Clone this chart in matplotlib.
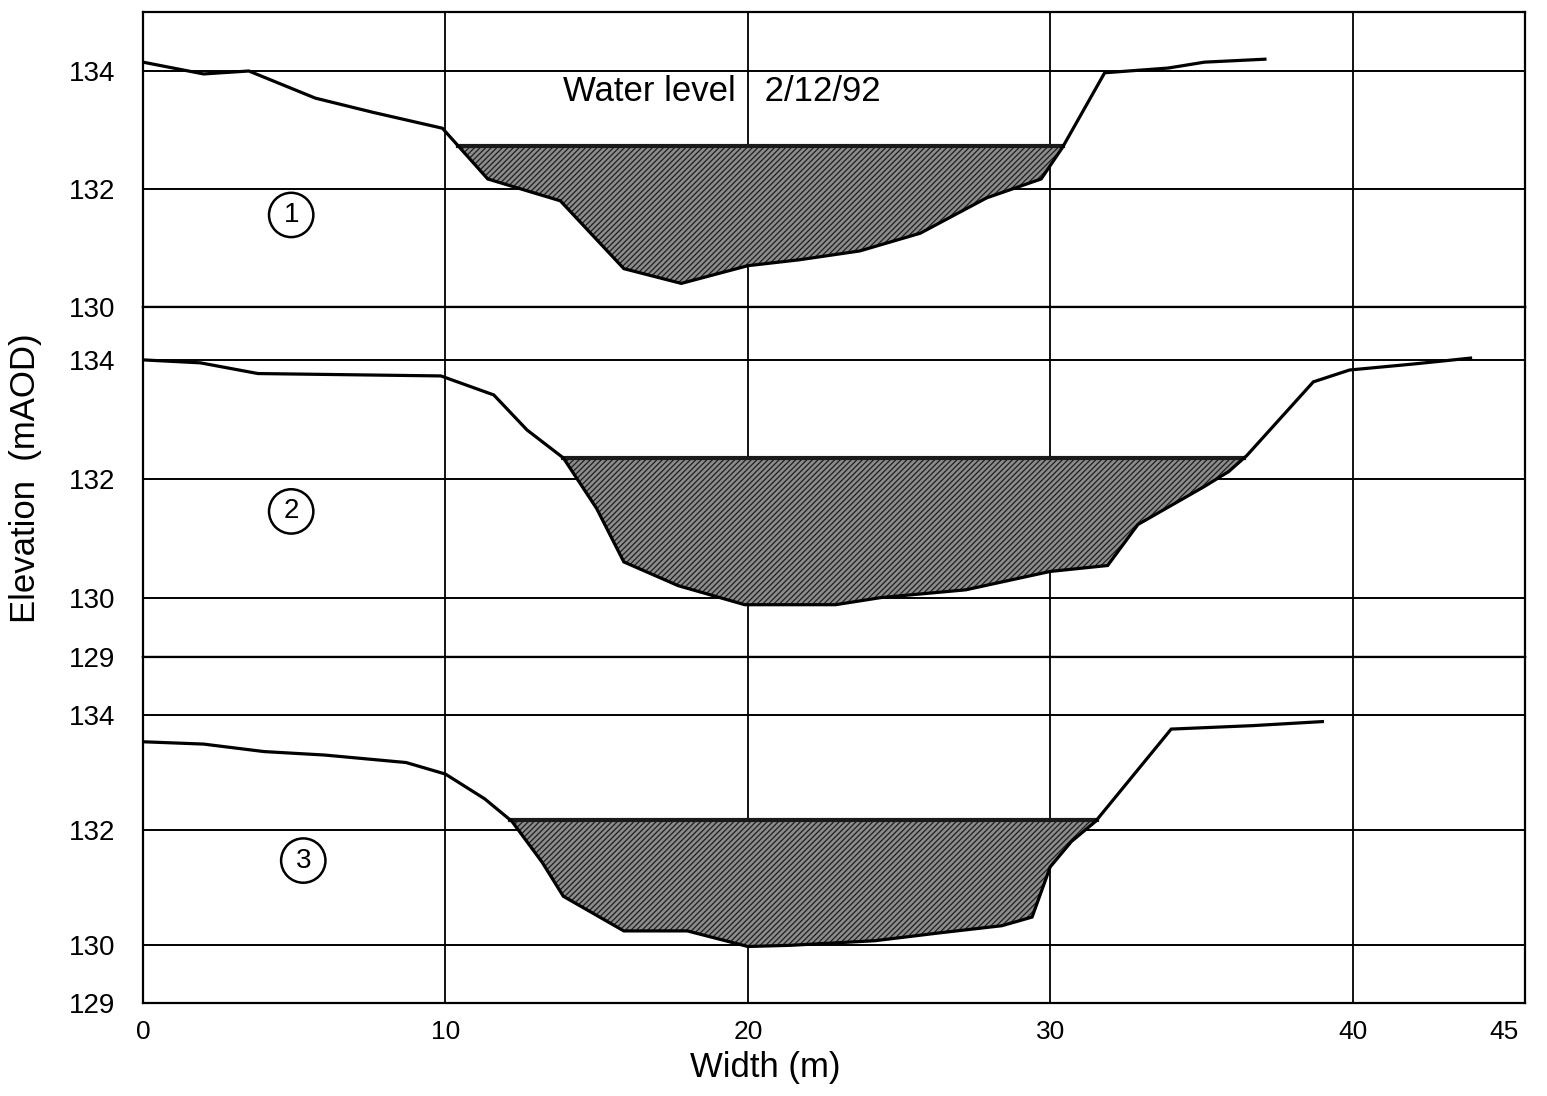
import numpy as np
import matplotlib
matplotlib.use("Agg")
import matplotlib.pyplot as plt

plt.rcParams['font.family'] = ['Liberation Sans', 'DejaVu Sans']
plt.rcParams['hatch.linewidth'] = 0.9

# ---------------- data ----------------
x1 = [0, 2, 3.5, 5.7, 7.6, 9.9, 11.4, 13.8, 15.9, 17.8, 20, 21.7, 23.7, 25.7, 27.9, 29.7, 30.4, 31.8, 33.9, 35.1, 37.1]
y1 = [134.15, 133.95, 134.0, 133.54, 133.3, 133.03, 132.17, 131.8, 130.65, 130.4, 130.7, 130.8, 130.95, 131.25, 131.85, 132.17, 132.7, 133.97, 134.05, 134.15, 134.2]
level1 = 132.73

x2 = [0, 1.9, 3.8, 9.85, 11.6, 12.7, 13.9, 15.0, 15.9, 17.7, 19.9, 22.9, 24.4, 27.2, 30.0, 31.9, 32.9, 35.1, 35.9, 36.5, 38.7, 39.9, 42.0, 43.9]
y2 = [134.0, 133.95, 133.77, 133.73, 133.41, 132.82, 132.35, 131.5, 130.6, 130.2, 129.88, 129.88, 130.0, 130.13, 130.44, 130.54, 131.23, 131.87, 132.12, 132.39, 133.63, 133.83, 133.93, 134.03]
level2 = 132.35

x3 = [0, 2, 4, 6, 8.7, 10, 11.3, 12.2, 13.2, 13.9, 15.9, 18.0, 20.0, 21.4, 24.2, 26.4, 28.4, 29.4, 30.0, 30.7, 31.5, 34.0, 36.7, 39.0]
y3 = [133.53, 133.49, 133.36, 133.3, 133.17, 132.97, 132.54, 132.15, 131.44, 130.85, 130.25, 130.25, 129.98, 130.0, 130.08, 130.22, 130.34, 130.49, 131.36, 131.8, 132.15, 133.75, 133.81, 133.88]
level3 = 132.18

section_labels = ['1', '2', '3']
water_label = 'Water level   2/12/92'
x_ticks = [0, 10, 20, 30, 40, 45]
x_grid = [10, 20, 30, 40]
y_ticks = [[130, 132, 134], [129, 130, 132, 134], [129, 130, 132, 134]]
y_lims = [(130, 135), (129, 134.89), (129, 135)]
x_lim = (0, 45.7)


def crossings(x, y, level):
    x = np.asarray(x, float)
    y = np.asarray(y, float) - level
    pts = []
    for i in range(len(x) - 1):
        if (y[i] > 0) != (y[i + 1] > 0):
            t = y[i] / (y[i] - y[i + 1])
            pts.append(x[i] + t * (x[i + 1] - x[i]))
    return pts[0], pts[-1]


fig = plt.figure(figsize=(15.47, 10.96), dpi=100)
gs = fig.add_gridspec(3, 1, left=143 / 1547, right=1525 / 1547,
                      top=1 - 12 / 1096, bottom=1 - 1003 / 1096,
                      hspace=0, height_ratios=[295, 350, 346])
axes = [fig.add_subplot(gs[i]) for i in range(3)]

profiles = [(x1, y1, level1), (x2, y2, level2), (x3, y3, level3)]
label_pos = [(4.9, 131.56), (4.9, 131.45), (5.3, 131.47)]

for i, ax in enumerate(axes):
    xs, ys, lev = profiles[i]
    xa = np.asarray(xs, float)
    ya = np.asarray(ys, float)
    a, b = crossings(xs, ys, lev)
    # water body
    xf = np.linspace(a, b, 600)
    yf = np.interp(xf, xa, ya)
    yf = np.minimum(yf, lev)
    ax.fill_between(xf, yf, lev, facecolor='#8c8c8c', edgecolor='#1e1e1e',
                    hatch='//////', linewidth=0, zorder=2)
    ax.plot([a, b], [lev, lev], color='#1a1a1a', lw=3.0, zorder=3)
    ax.plot(xa, ya, color='black', lw=2.3, zorder=4, solid_joinstyle='miter')

    ax.set_xlim(*x_lim)
    ax.set_ylim(*y_lims[i])
    ax.set_yticks(y_ticks[i])
    ax.set_xticks(x_ticks)
    ax.grid(True, axis='y', color='black', lw=1.4, zorder=1)
    for gx in x_grid:
        ax.axvline(gx, color='black', lw=1.3, zorder=1)
    ax.set_axisbelow(True)
    for s in ax.spines.values():
        s.set_linewidth(1.6)
        s.set_color('black')
    ax.tick_params(axis='y', length=0, pad=20, labelsize=20)
    ax.tick_params(axis='x', length=0, pad=12, labelsize=19)
    if i < 2:
        ax.tick_params(axis='x', labelbottom=False)

    lx, ly = label_pos[i]
    ax.text(lx, ly, section_labels[i], fontsize=20, ha='center', va='center', zorder=5,
            bbox=dict(boxstyle='circle,pad=0.33', fc='white', ec='black', lw=1.8))

axes[0].text(13.9, 133.66, water_label, fontsize=25, ha='left', va='center', zorder=5)

fig.text(25 / 1547, 1 - 478 / 1096, 'Elevation  (mAOD)', rotation=90,
         ha='center', va='center', fontsize=25)
fig.text(765 / 1547, 1 - 1068 / 1096, 'Width (m)', ha='center', va='center', fontsize=25)

fig.savefig('out.png', dpi=100, facecolor='white')
